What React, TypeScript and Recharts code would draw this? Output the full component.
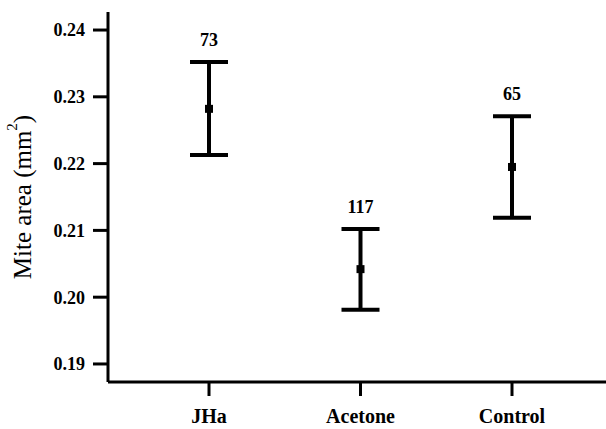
import React from "react";
import {
  ComposedChart,
  ErrorBar,
  LabelList,
  Scatter,
  XAxis,
  YAxis,
  ZAxis,
} from "recharts";

const groups = ["JHa", "Acetone", "Control"];
const means = [0.2282, 0.2042, 0.2195];
const lowers = [0.2213, 0.1981, 0.2119];
const uppers = [0.2352, 0.2102, 0.2271];
const counts = [73, 117, 65];
const yTicks = [0.19, 0.2, 0.21, 0.22, 0.23, 0.24];

const rows = groups.map((group, i) => ({
  group,
  mean: means[i],
  upper: uppers[i],
  err: [means[i] - lowers[i], uppers[i] - means[i]],
  n: counts[i],
}));

const FONT = "'Liberation Serif', 'Times New Roman', serif";
const line = { stroke: "#000", strokeWidth: 3 };

function YTitle({ viewBox }: any) {
  const cx = 22;
  const cy = viewBox.y + viewBox.height / 2;
  return (
    <text
      x={cx}
      y={cy}
      transform={`rotate(-90 ${cx} ${cy})`}
      textAnchor="middle"
      dominantBaseline="central"
      fontFamily={FONT}
      fontSize={25}
      fill="#000"
    >
      Mite area (mm
      <tspan fontSize={15} dy={-10}>
        2
      </tspan>
      <tspan dy={10}>)</tspan>
    </text>
  );
}

export default function App() {
  return (
    <div style={{ width: 606, height: 429, background: "#fff" }}>
      <style>{"body{margin:0}"}</style>
      <ComposedChart
        width={606}
        height={429}
        data={rows}
        margin={{ top: 12, right: 0, bottom: 0, left: 0 }}
      >
        <XAxis
          dataKey="group"
          type="category"
          scale="point"
          padding={{ left: 101, right: 94 }}
          height={47}
          axisLine={line}
          tickLine={line}
          tickSize={14}
          tickMargin={13}
          tick={{ fontFamily: FONT, fontSize: 20, fontWeight: 700, fill: "#000" }}
        />
        <YAxis
          type="number"
          domain={[0.1873, 0.2427]}
          ticks={yTicks}
          allowDataOverflow
          width={108}
          axisLine={line}
          tickLine={line}
          tickSize={15}
          tickMargin={8}
          tickFormatter={(v: number) => v.toFixed(2)}
          tick={{ fontFamily: FONT, fontSize: 18, fontWeight: 700, fill: "#000" }}
          label={{ content: YTitle }}
        />
        <ZAxis range={[64, 64]} />
        <Scatter
          dataKey="mean"
          fill="#000"
          shape="square"
          isAnimationActive={false}
        >
          <ErrorBar
            dataKey="err"
            direction="y"
            width={19}
            strokeWidth={4}
            stroke="#000"
          />
        </Scatter>
        <Scatter
          dataKey="upper"
          shape={() => <g />}
          isAnimationActive={false}
        >
          <LabelList
            dataKey="n"
            position="top"
            offset={12}
            fontFamily={FONT}
            fontSize={18}
            fontWeight={700}
            fill="#000"
          />
        </Scatter>
      </ComposedChart>
    </div>
  );
}
